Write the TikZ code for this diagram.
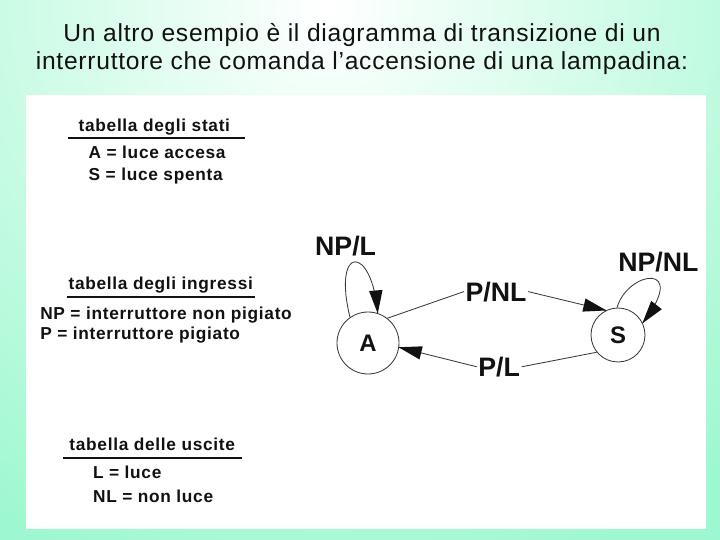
\documentclass[tikz,border=0pt]{standalone}
\usepackage{fontspec}
\setmainfont{Liberation Sans}[BoldFont={Liberation Sans Bold}]
\newfontfamily\lptitlefont{Liberation Sans}[LetterSpace=3]
\newfontfamily\lptablefont{Liberation Sans Bold}[LetterSpace=4]
\usetikzlibrary{arrows.meta}
\usetikzlibrary{decorations.markings}
\usetikzlibrary{positioning}
\definecolor{lpmint}{HTML}{9EF8CF}
\definecolor{lpink}{HTML}{111111}
\definecolor{lpline}{HTML}{3A3A3A}
\tikzset{
  lpstate/.style={
    draw=lpline, circle, line width=0.6pt, inner sep=0pt,
    font=\fontsize{17}{20}\selectfont\bfseries, text=lpink},
  lplabel/.style={font=\fontsize{19}{22}\selectfont\bfseries,
    text=lpink, inner sep=1pt},
  lpwire/.style={draw=lpline, line width=0.6pt},
  lparrow/.style={lpwire, postaction={decorate},
    decoration={markings, mark=at position 0.998 with {
      \fill[lpink] (0.5pt, 0) -- (-16pt, 4.8pt) -- (-16pt, -4.8pt)
        -- cycle;}}},
  lptitle/.style={anchor=base, text=lpink,
    font=\lptitlefont\fontsize{17.5}{20}\selectfont},
  lptabhead/.style={anchor=base west, inner sep=0pt, text=lpink,
    font=\lptablefont\fontsize{12.3}{14}\selectfont},
  lptabitem/.style={lptabhead},
  lprule/.style={draw=lpink, line width=0.9pt},
}

\begin{document}
\begin{tikzpicture}[x=1cm, y=1cm]
\useasboundingbox (0, 0) rectangle (18, 13.5);

% Background.
\begin{scope}
  \clip (0, 0) rectangle (18, 13.5);
  \fill[lpmint] (0, 0) rectangle (18, 13.5);
  \shade[inner color=white, outer color=lpmint] (8.2, 13.3) circle (15);
\end{scope}
\fill[white] (0.65, 0.275) rectangle (17.65, 11.125);

% Header.
\node[lptitle] (title1) at (9.05, 12.46)
  {Un altro esempio è il diagramma di transizione di un};
\node[lptitle] (title2) at (9.05, 11.77)
  {interruttore che comanda l’accensione di una lampadina:};

% Table of the states.
\node[lptabhead] (stati) at (1.96, 10.2) {tabella degli stati};
\draw[lprule] (1.70, 10.05) -- (6.13, 10.05);
\node[lptabitem] (statoA) at (2.21, 9.525) {A = luce accesa};
\node[lptabitem] (statoS) at (2.21, 8.975) {S = luce spenta};

% Table of the inputs.
\node[lptabhead] (ingressi) at (1.71, 6.27) {tabella degli ingressi};
\draw[lprule] (1.67, 6.075) -- (6.38, 6.075);
\node[lptabitem] (inNP) at (1.0, 5.52) {NP = interruttore non pigiato};
\node[lptabitem] (inP) at (1.0, 5.00) {P = interruttore pigiato};

% Table of the outputs.
\node[lptabhead] (uscite) at (1.73, 2.25) {tabella delle uscite};
\draw[lprule] (1.58, 2.05) -- (6.05, 2.05);
\node[lptabitem] (outL) at (2.32, 1.525) {L = luce};
\node[lptabitem] (outNL) at (2.32, 0.935) {NL = non luce};

% The two states.
\node[lpstate, minimum size=1.55cm] (A) at (9.2, 4.925) {A};
\node[lpstate, minimum size=1.35cm] (S) at (15.45, 5.125) {S};

% Transition labels.
\node[lplabel] (npl) at (8.64, 7.35) {NP/L};
\node[lplabel] (npnl) at (16.46, 6.96) {NP/NL};
\node[lplabel] (pnl) at (12.4, 6.21) {P/NL};
\node[lplabel] (pl) at (12.48, 4.33) {P/L};

% Transitions.
\draw[lparrow] (A.125) .. controls (8.3, 7.4) and (9.3, 7.4) .. (A.72);
\draw[lparrow] (S.92) .. controls (15.7, 6.75) and (17.25, 6.95) .. (S.26);
\draw[lpwire] (A.52) -- (pnl.west);
\draw[lparrow] (pnl.east) -- (S.116);
\draw[lpwire] (S.219) -- (pl.east);
\draw[lparrow] (pl.west) -- (A.-8);

\end{tikzpicture}
\end{document}
